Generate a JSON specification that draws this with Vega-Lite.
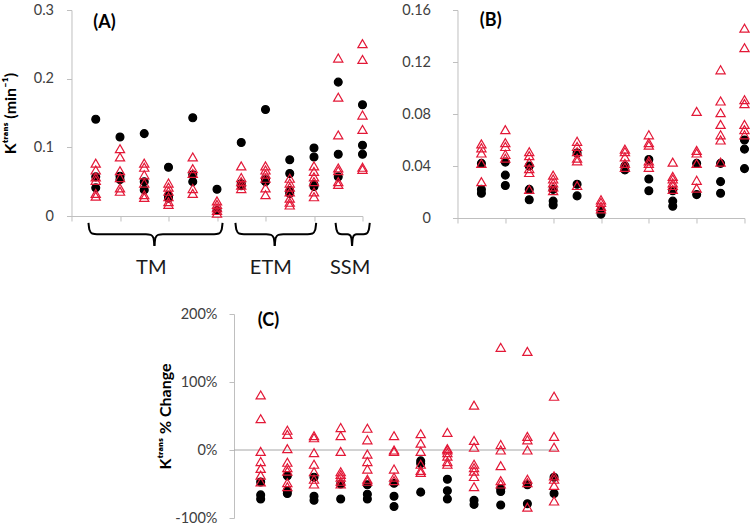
{
"$schema": "https://vega.github.io/schema/vega-lite/v6.json",
"padding": {"left": 2, "top": 2, "right": 0, "bottom": 0},
"center": true,
"spacing": 28,
"config": {
  "view": {"stroke": null},
  "font": "Lato",
  "axis": {"domainColor": "#bfbfbf", "tickColor": "#bfbfbf", "grid": false, "labelColor": "#404040", "labelFontSize": 14.5, "labelFont": "Lato", "titleFont": "Lato", "titleFontSize": 16, "titleFontWeight": "bold", "titleColor": "#000000", "tickSize": 5},
  "legend": {"orient": "none", "legendX": 97, "legendY": -7, "strokeColor": "#8c8c8c", "fillColor": "#ffffff", "padding": 9, "labelFontSize": 18, "labelFont": "Lato", "labelColor": "#000000", "rowPadding": 13, "symbolSize": 50, "symbolStrokeWidth": 1.1, "symbolOffset": 9, "labelOffset": 7, "cornerRadius": 0}
},
"datasets": {
  "A": [
    {"x":1,"g":"pCR","v":0.141},{"x":1,"g":"pCR","v":0.057},{"x":1,"g":"pCR","v":0.041},
    {"x":2,"g":"pCR","v":0.115},{"x":2,"g":"pCR","v":0.058},{"x":2,"g":"pCR","v":0.053},
    {"x":3,"g":"pCR","v":0.120},{"x":3,"g":"pCR","v":0.050},{"x":3,"g":"pCR","v":0.038},
    {"x":4,"g":"pCR","v":0.071},{"x":4,"g":"pCR","v":0.030},{"x":4,"g":"pCR","v":0.026},
    {"x":5,"g":"pCR","v":0.143},{"x":5,"g":"pCR","v":0.060},{"x":5,"g":"pCR","v":0.050},
    {"x":6,"g":"pCR","v":0.039},{"x":6,"g":"pCR","v":0.008},
    {"x":7,"g":"pCR","v":0.107},{"x":7,"g":"pCR","v":0.047},{"x":7,"g":"pCR","v":0.044},
    {"x":8,"g":"pCR","v":0.155},{"x":8,"g":"pCR","v":0.053},{"x":8,"g":"pCR","v":0.050},
    {"x":9,"g":"pCR","v":0.082},{"x":9,"g":"pCR","v":0.062},{"x":9,"g":"pCR","v":0.037},{"x":9,"g":"pCR","v":0.033},
    {"x":10,"g":"pCR","v":0.099},{"x":10,"g":"pCR","v":0.086},{"x":10,"g":"pCR","v":0.046},{"x":10,"g":"pCR","v":0.043},
    {"x":11,"g":"pCR","v":0.195},{"x":11,"g":"pCR","v":0.090},{"x":11,"g":"pCR","v":0.057},
    {"x":12,"g":"pCR","v":0.162},{"x":12,"g":"pCR","v":0.103},{"x":12,"g":"pCR","v":0.090},
    {"x":1,"g":"non-PCR","v":0.077},{"x":1,"g":"non-PCR","v":0.067},{"x":1,"g":"non-PCR","v":0.057},{"x":1,"g":"non-PCR","v":0.052},{"x":1,"g":"non-PCR","v":0.033},{"x":1,"g":"non-PCR","v":0.029},
    {"x":2,"g":"non-PCR","v":0.098},{"x":2,"g":"non-PCR","v":0.086},{"x":2,"g":"non-PCR","v":0.066},{"x":2,"g":"non-PCR","v":0.056},{"x":2,"g":"non-PCR","v":0.041},{"x":2,"g":"non-PCR","v":0.036},
    {"x":3,"g":"non-PCR","v":0.077},{"x":3,"g":"non-PCR","v":0.071},{"x":3,"g":"non-PCR","v":0.060},{"x":3,"g":"non-PCR","v":0.048},{"x":3,"g":"non-PCR","v":0.031},{"x":3,"g":"non-PCR","v":0.027},
    {"x":4,"g":"non-PCR","v":0.048},{"x":4,"g":"non-PCR","v":0.042},{"x":4,"g":"non-PCR","v":0.036},{"x":4,"g":"non-PCR","v":0.028},{"x":4,"g":"non-PCR","v":0.021},{"x":4,"g":"non-PCR","v":0.017},
    {"x":5,"g":"non-PCR","v":0.086},{"x":5,"g":"non-PCR","v":0.069},{"x":5,"g":"non-PCR","v":0.062},{"x":5,"g":"non-PCR","v":0.040},{"x":5,"g":"non-PCR","v":0.033},
    {"x":6,"g":"non-PCR","v":0.022},{"x":6,"g":"non-PCR","v":0.017},{"x":6,"g":"non-PCR","v":0.012},{"x":6,"g":"non-PCR","v":0.008},{"x":6,"g":"non-PCR","v":0.004},
    {"x":7,"g":"non-PCR","v":0.073},{"x":7,"g":"non-PCR","v":0.056},{"x":7,"g":"non-PCR","v":0.050},{"x":7,"g":"non-PCR","v":0.045},{"x":7,"g":"non-PCR","v":0.040},
    {"x":8,"g":"non-PCR","v":0.073},{"x":8,"g":"non-PCR","v":0.067},{"x":8,"g":"non-PCR","v":0.061},{"x":8,"g":"non-PCR","v":0.055},{"x":8,"g":"non-PCR","v":0.041},{"x":8,"g":"non-PCR","v":0.031},
    {"x":9,"g":"non-PCR","v":0.055},{"x":9,"g":"non-PCR","v":0.048},{"x":9,"g":"non-PCR","v":0.042},{"x":9,"g":"non-PCR","v":0.035},{"x":9,"g":"non-PCR","v":0.026},{"x":9,"g":"non-PCR","v":0.020},{"x":9,"g":"non-PCR","v":0.016},
    {"x":10,"g":"non-PCR","v":0.073},{"x":10,"g":"non-PCR","v":0.065},{"x":10,"g":"non-PCR","v":0.057},{"x":10,"g":"non-PCR","v":0.050},{"x":10,"g":"non-PCR","v":0.035},{"x":10,"g":"non-PCR","v":0.028},
    {"x":11,"g":"non-PCR","v":0.230},{"x":11,"g":"non-PCR","v":0.173},{"x":11,"g":"non-PCR","v":0.118},{"x":11,"g":"non-PCR","v":0.070},{"x":11,"g":"non-PCR","v":0.066},{"x":11,"g":"non-PCR","v":0.050},{"x":11,"g":"non-PCR","v":0.046},
    {"x":12,"g":"non-PCR","v":0.251},{"x":12,"g":"non-PCR","v":0.228},{"x":12,"g":"non-PCR","v":0.147},{"x":12,"g":"non-PCR","v":0.126},{"x":12,"g":"non-PCR","v":0.071},{"x":12,"g":"non-PCR","v":0.068}
  ],
  "B": [
    {"x":1,"g":"pCR","v":0.042},{"x":1,"g":"pCR","v":0.022},{"x":1,"g":"pCR","v":0.019},
    {"x":2,"g":"pCR","v":0.043},{"x":2,"g":"pCR","v":0.033},{"x":2,"g":"pCR","v":0.025},
    {"x":3,"g":"pCR","v":0.040},{"x":3,"g":"pCR","v":0.022},{"x":3,"g":"pCR","v":0.014},
    {"x":4,"g":"pCR","v":0.022},{"x":4,"g":"pCR","v":0.013},{"x":4,"g":"pCR","v":0.010},
    {"x":5,"g":"pCR","v":0.050},{"x":5,"g":"pCR","v":0.026},{"x":5,"g":"pCR","v":0.017},
    {"x":6,"g":"pCR","v":0.006},{"x":6,"g":"pCR","v":0.003},
    {"x":7,"g":"pCR","v":0.040},{"x":7,"g":"pCR","v":0.037},
    {"x":8,"g":"pCR","v":0.045},{"x":8,"g":"pCR","v":0.030},{"x":8,"g":"pCR","v":0.021},
    {"x":9,"g":"pCR","v":0.021},{"x":9,"g":"pCR","v":0.013},{"x":9,"g":"pCR","v":0.009},
    {"x":10,"g":"pCR","v":0.042},{"x":10,"g":"pCR","v":0.018},
    {"x":11,"g":"pCR","v":0.042},{"x":11,"g":"pCR","v":0.028},{"x":11,"g":"pCR","v":0.019},
    {"x":12,"g":"pCR","v":0.060},{"x":12,"g":"pCR","v":0.053},{"x":12,"g":"pCR","v":0.038},
    {"x":1,"g":"non-PCR","v":0.057},{"x":1,"g":"non-PCR","v":0.054},{"x":1,"g":"non-PCR","v":0.050},{"x":1,"g":"non-PCR","v":0.042},{"x":1,"g":"non-PCR","v":0.028},
    {"x":2,"g":"non-PCR","v":0.068},{"x":2,"g":"non-PCR","v":0.058},{"x":2,"g":"non-PCR","v":0.055},{"x":2,"g":"non-PCR","v":0.049},{"x":2,"g":"non-PCR","v":0.046},
    {"x":3,"g":"non-PCR","v":0.051},{"x":3,"g":"non-PCR","v":0.048},{"x":3,"g":"non-PCR","v":0.043},{"x":3,"g":"non-PCR","v":0.038},{"x":3,"g":"non-PCR","v":0.035},{"x":3,"g":"non-PCR","v":0.022},
    {"x":4,"g":"non-PCR","v":0.033},{"x":4,"g":"non-PCR","v":0.030},{"x":4,"g":"non-PCR","v":0.027},{"x":4,"g":"non-PCR","v":0.024},{"x":4,"g":"non-PCR","v":0.021},
    {"x":5,"g":"non-PCR","v":0.059},{"x":5,"g":"non-PCR","v":0.055},{"x":5,"g":"non-PCR","v":0.051},{"x":5,"g":"non-PCR","v":0.046},{"x":5,"g":"non-PCR","v":0.044},{"x":5,"g":"non-PCR","v":0.025},
    {"x":6,"g":"non-PCR","v":0.014},{"x":6,"g":"non-PCR","v":0.012},{"x":6,"g":"non-PCR","v":0.009},{"x":6,"g":"non-PCR","v":0.007},
    {"x":7,"g":"non-PCR","v":0.053},{"x":7,"g":"non-PCR","v":0.051},{"x":7,"g":"non-PCR","v":0.047},{"x":7,"g":"non-PCR","v":0.042},{"x":7,"g":"non-PCR","v":0.039},
    {"x":8,"g":"non-PCR","v":0.064},{"x":8,"g":"non-PCR","v":0.058},{"x":8,"g":"non-PCR","v":0.056},{"x":8,"g":"non-PCR","v":0.044},{"x":8,"g":"non-PCR","v":0.042},{"x":8,"g":"non-PCR","v":0.039},
    {"x":9,"g":"non-PCR","v":0.043},{"x":9,"g":"non-PCR","v":0.032},{"x":9,"g":"non-PCR","v":0.030},{"x":9,"g":"non-PCR","v":0.027},{"x":9,"g":"non-PCR","v":0.025},{"x":9,"g":"non-PCR","v":0.022},
    {"x":10,"g":"non-PCR","v":0.082},{"x":10,"g":"non-PCR","v":0.052},{"x":10,"g":"non-PCR","v":0.050},{"x":10,"g":"non-PCR","v":0.042},{"x":10,"g":"non-PCR","v":0.029},{"x":10,"g":"non-PCR","v":0.023},
    {"x":11,"g":"non-PCR","v":0.114},{"x":11,"g":"non-PCR","v":0.090},{"x":11,"g":"non-PCR","v":0.081},{"x":11,"g":"non-PCR","v":0.072},{"x":11,"g":"non-PCR","v":0.064},{"x":11,"g":"non-PCR","v":0.060},{"x":11,"g":"non-PCR","v":0.043},
    {"x":12,"g":"non-PCR","v":0.146},{"x":12,"g":"non-PCR","v":0.131},{"x":12,"g":"non-PCR","v":0.091},{"x":12,"g":"non-PCR","v":0.088},{"x":12,"g":"non-PCR","v":0.072},{"x":12,"g":"non-PCR","v":0.068},{"x":12,"g":"non-PCR","v":0.064}
  ],
  "C": [
    {"x":1,"g":"pCR","v":-47},{"x":1,"g":"pCR","v":-66},{"x":1,"g":"pCR","v":-72},
    {"x":2,"g":"pCR","v":-38},{"x":2,"g":"pCR","v":-60},{"x":2,"g":"pCR","v":-64},
    {"x":3,"g":"pCR","v":-40},{"x":3,"g":"pCR","v":-68},{"x":3,"g":"pCR","v":-74},
    {"x":4,"g":"pCR","v":-50},{"x":4,"g":"pCR","v":-72},
    {"x":5,"g":"pCR","v":-51},{"x":5,"g":"pCR","v":-65},{"x":5,"g":"pCR","v":-72},
    {"x":6,"g":"pCR","v":-49},{"x":6,"g":"pCR","v":-68},{"x":6,"g":"pCR","v":-83},
    {"x":7,"g":"pCR","v":-16},{"x":7,"g":"pCR","v":-20},{"x":7,"g":"pCR","v":-62},
    {"x":8,"g":"pCR","v":-43},{"x":8,"g":"pCR","v":-60},{"x":8,"g":"pCR","v":-72},
    {"x":9,"g":"pCR","v":-74},{"x":9,"g":"pCR","v":-80},
    {"x":10,"g":"pCR","v":-57},{"x":10,"g":"pCR","v":-61},{"x":10,"g":"pCR","v":-81},
    {"x":11,"g":"pCR","v":-51},{"x":11,"g":"pCR","v":-79},
    {"x":12,"g":"pCR","v":-40},{"x":12,"g":"pCR","v":-64},
    {"x":1,"g":"non-PCR","v":81},{"x":1,"g":"non-PCR","v":46},{"x":1,"g":"non-PCR","v":-2},{"x":1,"g":"non-PCR","v":-17},{"x":1,"g":"non-PCR","v":-27},{"x":1,"g":"non-PCR","v":-37},{"x":1,"g":"non-PCR","v":-47},
    {"x":2,"g":"non-PCR","v":29},{"x":2,"g":"non-PCR","v":23},{"x":2,"g":"non-PCR","v":2},{"x":2,"g":"non-PCR","v":-18},{"x":2,"g":"non-PCR","v":-26},{"x":2,"g":"non-PCR","v":-31},{"x":2,"g":"non-PCR","v":-48},{"x":2,"g":"non-PCR","v":-54},
    {"x":3,"g":"non-PCR","v":21},{"x":3,"g":"non-PCR","v":18},{"x":3,"g":"non-PCR","v":-4},{"x":3,"g":"non-PCR","v":-21},{"x":3,"g":"non-PCR","v":-32},{"x":3,"g":"non-PCR","v":-43},{"x":3,"g":"non-PCR","v":-50},
    {"x":4,"g":"non-PCR","v":33},{"x":4,"g":"non-PCR","v":21},{"x":4,"g":"non-PCR","v":-2},{"x":4,"g":"non-PCR","v":-32},{"x":4,"g":"non-PCR","v":-36},{"x":4,"g":"non-PCR","v":-40},{"x":4,"g":"non-PCR","v":-46},{"x":4,"g":"non-PCR","v":-50},
    {"x":5,"g":"non-PCR","v":32},{"x":5,"g":"non-PCR","v":15},{"x":5,"g":"non-PCR","v":-6},{"x":5,"g":"non-PCR","v":-17},{"x":5,"g":"non-PCR","v":-28},{"x":5,"g":"non-PCR","v":-43},{"x":5,"g":"non-PCR","v":-46},
    {"x":6,"g":"non-PCR","v":21},{"x":6,"g":"non-PCR","v":0},{"x":6,"g":"non-PCR","v":-2},{"x":6,"g":"non-PCR","v":-28},{"x":6,"g":"non-PCR","v":-40},{"x":6,"g":"non-PCR","v":-45},
    {"x":7,"g":"non-PCR","v":24},{"x":7,"g":"non-PCR","v":10},{"x":7,"g":"non-PCR","v":-2},{"x":7,"g":"non-PCR","v":-21},{"x":7,"g":"non-PCR","v":-30},{"x":7,"g":"non-PCR","v":-33},
    {"x":8,"g":"non-PCR","v":26},{"x":8,"g":"non-PCR","v":2},{"x":8,"g":"non-PCR","v":0},{"x":8,"g":"non-PCR","v":-4},{"x":8,"g":"non-PCR","v":-9},{"x":8,"g":"non-PCR","v":-17},{"x":8,"g":"non-PCR","v":-21},
    {"x":9,"g":"non-PCR","v":66},{"x":9,"g":"non-PCR","v":14},{"x":9,"g":"non-PCR","v":4},{"x":9,"g":"non-PCR","v":-21},{"x":9,"g":"non-PCR","v":-26},{"x":9,"g":"non-PCR","v":-31},{"x":9,"g":"non-PCR","v":-39},{"x":9,"g":"non-PCR","v":-54},
    {"x":10,"g":"non-PCR","v":151},{"x":10,"g":"non-PCR","v":8},{"x":10,"g":"non-PCR","v":0},{"x":10,"g":"non-PCR","v":-23},{"x":10,"g":"non-PCR","v":-45},{"x":10,"g":"non-PCR","v":-50},
    {"x":11,"g":"non-PCR","v":145},{"x":11,"g":"non-PCR","v":20},{"x":11,"g":"non-PCR","v":15},{"x":11,"g":"non-PCR","v":0},{"x":11,"g":"non-PCR","v":-43},{"x":11,"g":"non-PCR","v":-48},{"x":11,"g":"non-PCR","v":-84},
    {"x":12,"g":"non-PCR","v":79},{"x":12,"g":"non-PCR","v":20},{"x":12,"g":"non-PCR","v":4},{"x":12,"g":"non-PCR","v":-38},{"x":12,"g":"non-PCR","v":-43},{"x":12,"g":"non-PCR","v":-52},{"x":12,"g":"non-PCR","v":-75}
  ],
  "braces": [
    {"seg":"TM-L","x":0.70,"y":-0.010},{"seg":"TM-L","x":0.74,"y":-0.020},{"seg":"TM-L","x":0.85,"y":-0.0255},{"seg":"TM-L","x":1.05,"y":-0.0265},{"seg":"TM-L","x":3.07,"y":-0.0265},{"seg":"TM-L","x":3.27,"y":-0.0275},{"seg":"TM-L","x":3.38,"y":-0.032},{"seg":"TM-L","x":3.42,"y":-0.0435},
    {"seg":"TM-R","x":3.42,"y":-0.0435},{"seg":"TM-R","x":3.46,"y":-0.032},{"seg":"TM-R","x":3.57,"y":-0.0275},{"seg":"TM-R","x":3.77,"y":-0.0265},{"seg":"TM-R","x":5.88,"y":-0.0265},{"seg":"TM-R","x":6.08,"y":-0.0255},{"seg":"TM-R","x":6.19,"y":-0.020},{"seg":"TM-R","x":6.23,"y":-0.010},
    {"seg":"ETM-L","x":6.76,"y":-0.010},{"seg":"ETM-L","x":6.80,"y":-0.020},{"seg":"ETM-L","x":6.91,"y":-0.0255},{"seg":"ETM-L","x":7.11,"y":-0.0265},{"seg":"ETM-L","x":8.03,"y":-0.0265},{"seg":"ETM-L","x":8.23,"y":-0.0275},{"seg":"ETM-L","x":8.34,"y":-0.032},{"seg":"ETM-L","x":8.38,"y":-0.0435},
    {"seg":"ETM-R","x":8.38,"y":-0.0435},{"seg":"ETM-R","x":8.42,"y":-0.032},{"seg":"ETM-R","x":8.53,"y":-0.0275},{"seg":"ETM-R","x":8.73,"y":-0.0265},{"seg":"ETM-R","x":9.74,"y":-0.0265},{"seg":"ETM-R","x":9.94,"y":-0.0255},{"seg":"ETM-R","x":10.05,"y":-0.020},{"seg":"ETM-R","x":10.09,"y":-0.010},
    {"seg":"SSM-L","x":10.89,"y":-0.010},{"seg":"SSM-L","x":10.93,"y":-0.020},{"seg":"SSM-L","x":11.02,"y":-0.0255},{"seg":"SSM-L","x":11.15,"y":-0.0265},{"seg":"SSM-L","x":11.38,"y":-0.0267},{"seg":"SSM-L","x":11.48,"y":-0.0278},{"seg":"SSM-L","x":11.54,"y":-0.032},{"seg":"SSM-L","x":11.57,"y":-0.0435},
    {"seg":"SSM-R","x":11.57,"y":-0.0435},{"seg":"SSM-R","x":11.60,"y":-0.032},{"seg":"SSM-R","x":11.66,"y":-0.0278},{"seg":"SSM-R","x":11.76,"y":-0.0267},{"seg":"SSM-R","x":12.04,"y":-0.0265},{"seg":"SSM-R","x":12.17,"y":-0.0255},{"seg":"SSM-R","x":12.26,"y":-0.020},{"seg":"SSM-R","x":12.30,"y":-0.010}
  ],
  "groups": [{"t":"TM","x":3.29},{"t":"ETM","x":8.22},{"t":"SSM","x":11.49}]
},
"vconcat": [
  {
    "hconcat": [
      {
        "width": 291, "height": 206,
        "layer": [
          {
            "data": {"name": "braces"},
            "mark": {"type": "line", "interpolate": "monotone", "color": "#000000", "strokeWidth": 2},
            "encoding": {
              "x": {"field": "x", "type": "quantitative", "scale": {"domain": [0, 12], "nice": false, "zero": false}, "axis": {"values": [0,1,2,3,4,5,6,7,8,9,10,11,12], "labels": false, "title": null, "tickSize": 5}},
              "y": {"field": "y", "type": "quantitative", "scale": {"domain": [0, 0.3], "nice": false}, "axis": {"values": [0, 0.1, 0.2, 0.3], "format": "~g", "labelPadding": 13, "title": "Kᵗʳᵃⁿˢ (min⁻¹)", "titleX": -61, "titleY": 103, "titleAngle": -90, "titleAlign": "center", "titleBaseline": "middle"}},
              "detail": {"field": "seg", "type": "nominal"}
            }
          },
          {
            "data": {"name": "groups"},
            "mark": {"type": "text", "fontSize": 20, "font": "Lato", "color": "#1a1a1a"},
            "encoding": {
              "x": {"field": "x", "type": "quantitative"},
              "y": {"datum": -0.0754},
              "text": {"field": "t", "type": "nominal"}
            }
          },
          {
            "data": {"values": [{"t": "(A)"}]},
            "mark": {"type": "text", "fontSize": 18, "fontWeight": "bold", "font": "Lato", "color": "#000000"},
            "encoding": {"x": {"datum": 1.36}, "y": {"datum": 0.281}, "text": {"field": "t", "type": "nominal"}}
          },
          {
            "data": {"name": "A"},
            "mark": {"type": "point", "filled": true, "strokeWidth": 1.2, "opacity": 1},
            "encoding": {
              "x": {"field": "x", "type": "quantitative"},
              "y": {"field": "v", "type": "quantitative"},
              "size": {"field": "g", "type": "nominal", "legend": null, "scale": {"domain": ["pCR", "non-PCR"], "range": [62, 85]}},
              "shape": {"field": "g", "type": "nominal", "title": null, "scale": {"domain": ["pCR", "non-PCR"], "range": ["circle", "triangle-up"]}},
              "fill": {"field": "g", "type": "nominal", "title": null, "scale": {"domain": ["pCR", "non-PCR"], "range": ["#000000", "transparent"]}},
              "stroke": {"field": "g", "type": "nominal", "title": null, "scale": {"domain": ["pCR", "non-PCR"], "range": ["#000000", "#e31837"]}}
            }
          }
        ]
      },
      {
        "width": 287, "height": 208,
        "layer": [
          {
            "data": {"values": [{"t": "(B)"}]},
            "mark": {"type": "text", "fontSize": 18, "fontWeight": "bold", "font": "Lato", "color": "#000000"},
            "encoding": {
              "x": {"datum": 1.39, "type": "quantitative", "scale": {"domain": [0, 12], "nice": false, "zero": false}, "axis": {"values": [0,1,2,3,4,5,6,7,8,9,10,11,12], "labels": false, "title": null, "tickSize": 5}},
              "y": {"datum": 0.1515, "type": "quantitative", "scale": {"domain": [0, 0.16], "nice": false}, "axis": {"values": [0, 0.04, 0.08, 0.12, 0.16], "format": "~g", "labelPadding": 22, "title": null}},
              "text": {"field": "t", "type": "nominal"}
            }
          },
          {
            "data": {"name": "B"},
            "mark": {"type": "point", "filled": true, "strokeWidth": 1.2, "opacity": 1},
            "encoding": {
              "x": {"field": "x", "type": "quantitative"},
              "y": {"field": "v", "type": "quantitative"},
              "size": {"field": "g", "type": "nominal", "legend": null, "scale": {"domain": ["pCR", "non-PCR"], "range": [62, 85]}},
              "shape": {"field": "g", "type": "nominal", "title": null, "scale": {"domain": ["pCR", "non-PCR"], "range": ["circle", "triangle-up"]}},
              "fill": {"field": "g", "type": "nominal", "title": null, "scale": {"domain": ["pCR", "non-PCR"], "range": ["#000000", "transparent"]}},
              "stroke": {"field": "g", "type": "nominal", "title": null, "scale": {"domain": ["pCR", "non-PCR"], "range": ["#000000", "#e31837"]}}
            }
          }
        ]
      }
    ],
    "spacing": 95,
    "bounds": "flush"
  },
  {
    "width": 355, "height": 204,
    "layer": [
      {
        "data": {"values": [{"t": "(C)"}]},
        "mark": {"type": "text", "fontSize": 18, "fontWeight": "bold", "font": "Lato", "color": "#000000"},
        "encoding": {
          "x": {"datum": 1.29, "type": "quantitative", "scale": {"domain": [0, 13.31], "nice": false, "zero": false}, "axis": null},
          "y": {"datum": 189, "type": "quantitative", "scale": {"domain": [-100, 200], "nice": false}, "axis": {"values": [-100, -50, 0, 50, 100, 150, 200], "labelExpr": "datum.value + '%'", "labelPadding": 12, "title": "Kᵗʳᵃⁿˢ % Change", "titleX": -69, "titleY": 102, "titleAngle": -90, "titleAlign": "center", "titleBaseline": "middle"}},
          "text": {"field": "t", "type": "nominal"}
        }
      },
      {
        "data": {"values": [{"t": "zero"}]},
        "mark": {"type": "rule", "color": "#a6a6a6", "strokeWidth": 1},
        "encoding": {"x": {"datum": 0}, "x2": {"datum": 12.1}, "y": {"datum": 0}}
      },
      {
        "data": {"name": "C"},
        "mark": {"type": "point", "filled": true, "strokeWidth": 1.2, "opacity": 1},
        "encoding": {
          "x": {"field": "x", "type": "quantitative"},
          "y": {"field": "v", "type": "quantitative"},
          "size": {"field": "g", "type": "nominal", "legend": null, "scale": {"domain": ["pCR", "non-PCR"], "range": [62, 85]}},
          "shape": {"field": "g", "type": "nominal", "title": null, "scale": {"domain": ["pCR", "non-PCR"], "range": ["circle", "triangle-up"]}},
          "fill": {"field": "g", "type": "nominal", "title": null, "scale": {"domain": ["pCR", "non-PCR"], "range": ["#000000", "transparent"]}},
          "stroke": {"field": "g", "type": "nominal", "title": null, "scale": {"domain": ["pCR", "non-PCR"], "range": ["#000000", "#e31837"]}}
        }
      }
    ]
  }
]
}
